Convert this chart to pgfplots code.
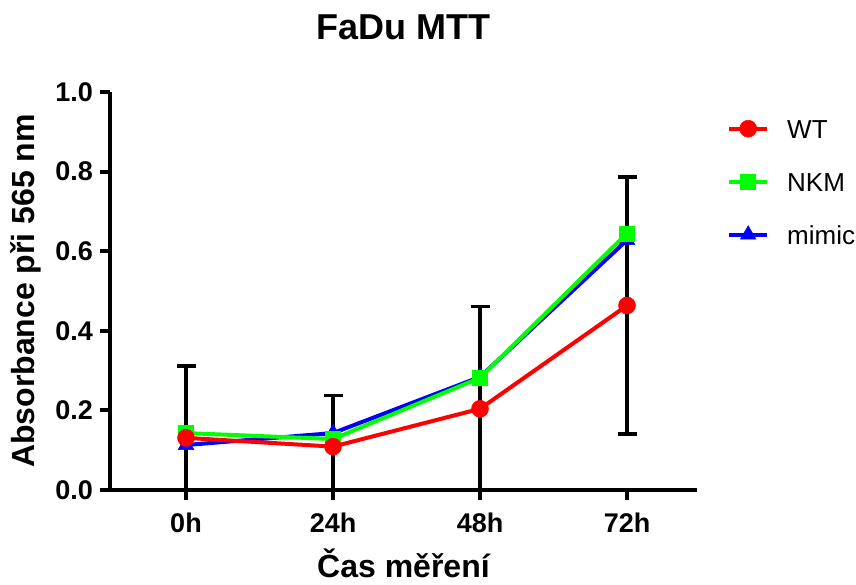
\documentclass[border=0pt]{standalone}
\usepackage{fontspec}
\setmainfont{Liberation Sans}
\usepackage{pgfplots}
\pgfplotsset{compat=1.18}
\definecolor{cWT}{RGB}{255,0,0}
\definecolor{cNKM}{RGB}{0,255,0}
\definecolor{cMim}{RGB}{0,0,255}
\begin{document}
\begin{tikzpicture}
\path[use as bounding box] (0,0) rectangle (856pt,585pt);
\begin{axis}[
 at={(110pt,95pt)}, anchor=south west,
 scale only axis, width=587pt, height=398pt,
 xmin=-0.517, xmax=3.476, ymin=0, ymax=1,
 axis x line=bottom, axis y line=left,
 axis line style={line width=4.5pt, -, black},
 xtick={0,1,2,3}, xticklabels={0h,24h,48h,72h},
 ytick={0,0.2,0.4,0.6,0.8,1},
 tick align=outside, major tick length=10pt,
 tick style={line width=4pt, black},
 /pgf/number format/assume math mode=true,
 tick label style={font=\bfseries\fontsize{27}{27}\selectfont, inner sep=0pt},
 xticklabel style={anchor=base, yshift=-33pt},
 yticklabel style={anchor=east, xshift=-7pt, /pgf/number format/.cd, fixed, fixed zerofill, precision=1},
 title={FaDu MTT},
 title style={at={(rel axis cs:0.5,1)}, anchor=center, yshift=59pt, font=\bfseries\fontsize{36}{36}\selectfont},
 xlabel={Čas měření},
 xlabel style={at={(rel axis cs:0.5,0)}, anchor=base, yshift=-88pt, font=\bfseries\fontsize{32}{32}\selectfont},
 ylabel={Absorbance při 565 nm},
 ylabel style={at={(rel axis cs:0,0.5)}, anchor=base, yshift=75pt, font=\bfseries\fontsize{32}{32}\selectfont},
 reverse legend,
 legend style={draw=none, fill=none, at={(rel axis cs:1,1)}, anchor=north west, xshift=30pt, yshift=-27pt,
   font=\fontsize{26}{26}\selectfont, inner sep=0pt, row sep=34pt,
   nodes={inner sep=0pt, text height=19pt, text depth=0pt},
   /tikz/every odd column/.append style={column sep=18pt}},
 legend cell align=left,
 legend image code/.code={\draw[mark repeat=2,mark phase=2] plot coordinates {(0pt,0pt) (19pt,0pt) (38pt,0pt)};},
]
\addplot[color=cMim, line width=4pt, mark=triangle*, mark size=9pt, mark options={solid, line width=0.5pt}] coordinates {(0,0.113) (1,0.143) (2,0.284) (3,0.628)};
\addlegendentry{mimic}
\addplot[color=cNKM, line width=4pt, mark=square*, mark size=7.5pt, mark options={solid, line width=0.5pt}] coordinates {(0,0.143) (1,0.128) (2,0.282) (3,0.645)};
\addlegendentry{NKM}
\addplot[color=cWT, line width=4pt, mark=*, mark size=8.5pt, mark options={solid, line width=0.5pt},
  error bars/.cd, y dir=both, y explicit, error mark=-,
  error bar style={line width=3.5pt, black},
  error mark options={line width=3.5pt, black, mark size=9.5pt, rotate=90}]
  coordinates {(0,0.131) +- (0,0.18) (1,0.109) +- (0,0.128) (2,0.204) +- (0,0.257) (3,0.4635) +- (0,0.3225)};
\addlegendentry{WT}
\end{axis}
\end{tikzpicture}
\end{document}
